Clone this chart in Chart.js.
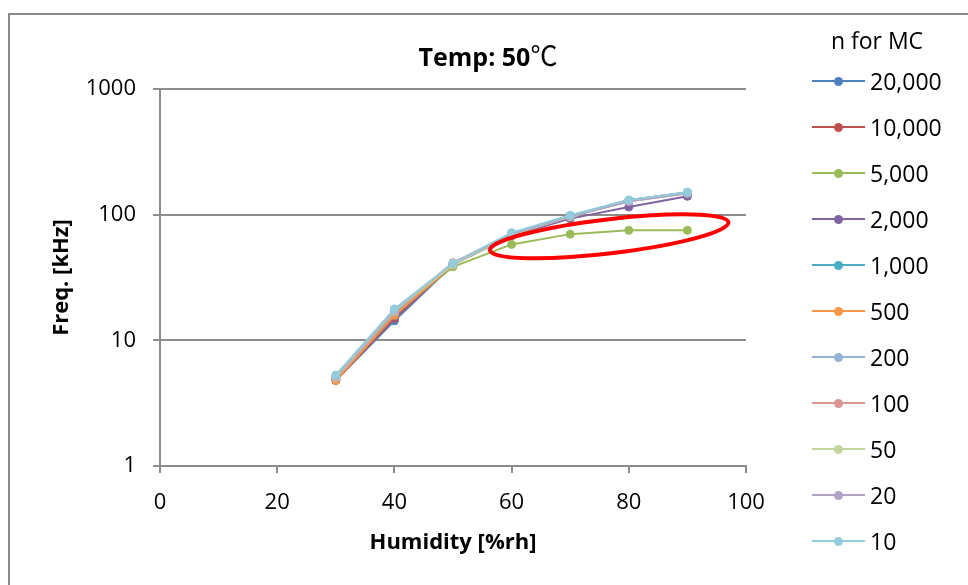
<!DOCTYPE html>
<html><head><meta charset="utf-8">
<script src="https://cdn.jsdelivr.net/npm/chart.js@4.4.0/dist/chart.umd.min.js"></script>
<style>
html,body{margin:0;padding:0;background:#fff;overflow:hidden;}
#wrap{position:relative;width:968px;height:585px;font-family:"Open Sans",sans-serif;color:#000;}
#frame{position:absolute;left:8px;top:13px;width:990px;height:610px;border-left:2px solid #8c8c8c;border-top:2px solid #8c8c8c;}
canvas{position:absolute;left:0;top:0;}
#title{position:absolute;left:0;width:976px;top:39px;text-align:center;font-weight:bold;font-size:25px;line-height:32px;}
#title .deg{font-family:"Noto Sans CJK JP",sans-serif;font-weight:normal;font-size:27px;}
#legTitle{position:absolute;left:820px;width:114px;top:25px;text-align:center;font-size:23px;line-height:30px;}
#legend{position:absolute;left:812px;top:58px;}
.row{height:46px;display:flex;align-items:center;position:relative;}
.ln{width:53px;height:2px;position:relative;}
.dot{position:absolute;left:22px;top:-3.5px;width:9px;height:9px;border-radius:50%;}
.lt{margin-left:5px;font-size:23px;line-height:28px;}
</style></head>
<body>
<div id="wrap">
<div id="frame"></div>
<canvas id="c" width="968" height="585"></canvas>
<div id="title">Temp: 50<span class="deg">℃</span></div>
<div id="legTitle">n for MC</div>
<div id="legend"></div>
</div>
<script>
const humidity = [30, 40, 50, 60, 70, 80, 90];
const seriesNames = ["20,000", "10,000", "5,000", "2,000", "1,000", "500", "200", "100", "50", "20", "10"];
const s20000 = [4.8, 14.3, 40, 70, 97, 130, 150];
const s10000 = [4.8, 15.0, 40, 70, 97, 130, 150];
const s5000  = [4.9, 16.0, 38.5, 58, 70, 75, 75];
const s2000  = [4.9, 15.5, 40, 68, 93, 115, 140];
const s1000  = [5.0, 16.5, 41, 71, 98, 130, 150];
const s500   = [4.8, 15.8, 40, 70, 97, 128, 148];
const s200   = [5.0, 16.8, 41, 71, 98, 130, 150];
const s100   = [5.0, 17.0, 41.5, 70, 97, 129, 149];
const s50    = [5.1, 17.2, 40, 69, 96, 128, 148];
const s20    = [5.2, 17.5, 41, 70, 97, 127, 148];
const s10    = [5.3, 17.8, 41, 72, 99, 131, 151];
const seriesValues = [s20000, s10000, s5000, s2000, s1000, s500, s200, s100, s50, s20, s10];
const seriesColors = ["#4F81BD", "#C0504D", "#9BBB59", "#8064A2", "#4BACC6", "#F79646", "#95B3D7", "#D99694", "#C3D69B", "#B3A2C7", "#93CDDD"];
const yTicks = [1, 10, 100, 1000];
const xTicks = [0, 20, 40, 60, 80, 100];
// annotation ellipse (data coords of its two ends)
const ellipseEnds = [[56.3, 52], [97, 87]];

const FONT = "'Open Sans', sans-serif";
const GRID = "#8c8c8c";

const datasets = seriesNames.map((n, i) => ({
  label: n,
  data: humidity.map((h, j) => ({x: h, y: seriesValues[i][j]})),
  borderColor: seriesColors[i],
  backgroundColor: seriesColors[i],
  borderWidth: 2,
  pointRadius: 4,
  pointBorderWidth: 1,
  tension: 0,
  order: seriesNames.length - i
}));

const ellipsePlugin = {
  id: 'ellipse',
  afterDatasetsDraw(chart) {
    const {ctx, scales: {x, y}} = chart;
    const p1 = [x.getPixelForValue(ellipseEnds[0][0]), y.getPixelForValue(ellipseEnds[0][1])];
    const p2 = [x.getPixelForValue(ellipseEnds[1][0]), y.getPixelForValue(ellipseEnds[1][1])];
    const cx = (p1[0] + p2[0]) / 2, cy = (p1[1] + p2[1]) / 2;
    const a = Math.hypot(p2[0] - p1[0], p2[1] - p1[1]) / 2;
    const ang = Math.atan2(p2[1] - p1[1], p2[0] - p1[0]);
    ctx.save();
    ctx.beginPath();
    ctx.ellipse(cx, cy, a, 17, ang, 0, Math.PI * 2);
    ctx.strokeStyle = "#FF0000";
    ctx.lineWidth = 4;
    ctx.stroke();
    ctx.restore();
  }
};

new Chart(document.getElementById('c'), {
  type: 'line',
  data: {datasets},
  options: {
    responsive: false,
    animation: false,
    devicePixelRatio: 1,
    layout: {padding: {top: 89, right: 222, left: 0, bottom: 0}},
    plugins: {legend: {display: false}, title: {display: false}, tooltip: {enabled: false}},
    scales: {
      x: {
        type: 'linear', min: 0, max: 100,
        afterBuildTicks: s => { s.ticks = xTicks.map(v => ({value: v})); },
        afterFit: s => { s.height = 119; },
        grid: {drawOnChartArea: false, drawTicks: true, tickLength: 7, color: GRID, lineWidth: 2},
        border: {display: true, color: GRID, width: 2},
        ticks: {font: {family: FONT, size: 22}, color: '#000', padding: 17, maxRotation: 0},
        title: {display: true, text: 'Humidity [%rh]', font: {family: FONT, size: 22, weight: 'bold'}, color: '#000', padding: {top: 0, bottom: 29}}
      },
      y: {
        type: 'logarithmic', min: 1, max: 1000,
        afterBuildTicks: s => { s.ticks = yTicks.map(v => ({value: v})); },
        afterFit: s => { s.width = 160; },
        grid: {drawOnChartArea: true, drawTicks: true, tickLength: 7, color: GRID, lineWidth: 2},
        border: {display: true, color: GRID, width: 2},
        ticks: {font: {family: FONT, size: 22}, color: '#000', padding: 17, callback: v => String(v)},
        title: {display: true, text: 'Freq. [kHz]', font: {family: FONT, size: 22, weight: 'bold'}, color: '#000', padding: {top: 49, bottom: 0}}
      }
    }
  },
  plugins: [ellipsePlugin]
});

const leg = document.getElementById('legend');
seriesNames.forEach((n, i) => {
  const row = document.createElement('div');
  row.className = 'row';
  row.innerHTML = '<div class="ln" style="background:' + seriesColors[i] + '"><div class="dot" style="background:' + seriesColors[i] + '"></div></div><span class="lt">' + n + '</span>';
  leg.appendChild(row);
});
</script>
</body></html>
